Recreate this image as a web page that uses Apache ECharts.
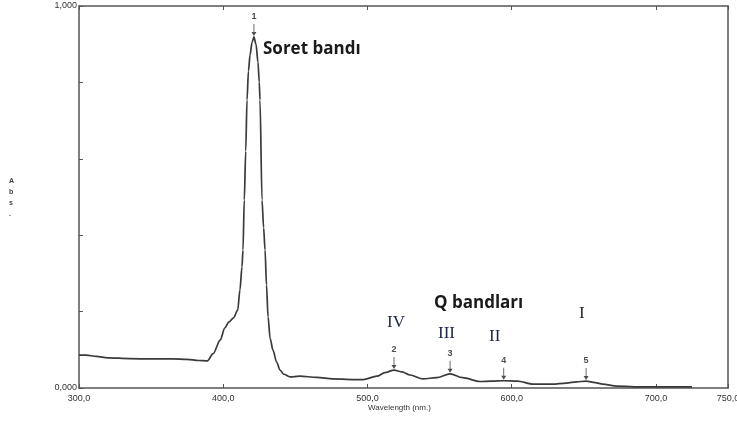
<!DOCTYPE html>
<html>
<head>
<meta charset="utf-8">
<style>
  html, body { margin: 0; padding: 0; background: #fff; }
  #chart { width: 737px; height: 424px; }
</style>
<script src="https://cdn.jsdelivr.net/npm/echarts@6/dist/echarts.min.js"></script>
</head>
<body>
<div id="chart"></div>
<script>
// spectrum (nm, Abs)
const wavelengths = [300, 305, 312, 320, 335, 350, 365, 375, 383, 389, 393, 398, 401, 404, 407, 410,
  411.6, 413, 413.7, 414.6, 415.6, 416.5, 417.5, 418.6, 420, 421.3, 422.7, 424.1, 425, 425.5,
  426.9, 428, 429, 430, 431.1, 432.5, 434.5, 437, 439.4, 442, 446.3, 453, 465, 476, 490, 497, 506.6, 512,
  518.4, 524, 529.5, 538.5, 548, 557.3, 566, 578, 586, 594.5, 604, 615, 628, 638, 645, 651.6, 658,
  663, 673, 685, 700, 715, 725];
const absorbance = [0.086, 0.086, 0.083, 0.079, 0.077, 0.076, 0.076, 0.075, 0.072, 0.071, 0.090, 0.126,
  0.157, 0.173, 0.183, 0.203, 0.257, 0.317, 0.361, 0.492, 0.62, 0.754, 0.83, 0.872, 0.905, 0.919, 0.9,
  0.853, 0.8, 0.754, 0.492, 0.42, 0.361, 0.27, 0.186, 0.13, 0.099, 0.068, 0.047, 0.036, 0.029, 0.031, 0.028,
  0.024, 0.022, 0.022, 0.031, 0.040, 0.047, 0.042, 0.034, 0.024, 0.027, 0.037, 0.027, 0.017, 0.018,
  0.019, 0.018, 0.010, 0.010, 0.013, 0.016, 0.018, 0.014, 0.010, 0.005, 0.003, 0.003, 0.003, 0.003];

// picked peaks
const peakLabels = ['1', '2', '3', '4', '5'];
const peakWl = [421.3, 518.4, 557.3, 594.5, 651.6];
const peakAbs = [0.919, 0.047, 0.037, 0.019, 0.018];

const xTicks = [300, 400, 500, 600, 700, 750];

const axisColor = '#555';
const labelFont = { color: '#333', fontSize: 9, fontFamily: 'Liberation Sans, Arial, sans-serif' };

const fmt = (v, d) => v.toFixed(d).replace('.', ',');

// down arrow: short shaft with a head at the bottom
const arrowPath = 'path://M2.5,0 L3.5,0 L3.5,8 L6,8 L3,12 L0,8 L2.5,8 Z';

const chart = echarts.init(document.getElementById('chart'), null, { renderer: 'canvas' });

chart.setOption({
  animation: false,
  grid: { left: 79, right: 9, top: 6, bottom: 36, outerBoundsMode: 'none', containLabel: false },
  xAxis: [
    {
      type: 'value', min: 300, max: 750, interval: 100,
      axisLine: { show: true, lineStyle: { color: axisColor, width: 1.5 } },
      axisTick: { show: true, inside: true, length: 4, lineStyle: { color: axisColor } },
      splitLine: { show: false },
      axisLabel: Object.assign({ margin: 6, showMaxLabel: true, showMinLabel: true, hideOverlap: false,
        formatter: v => xTicks.includes(v) ? fmt(v, 1) : '' }, labelFont)
    },
    {
      type: 'value', position: 'top', min: 300, max: 750, interval: 100,
      axisLine: { show: true, onZero: false, lineStyle: { color: axisColor, width: 1.5 } },
      axisTick: { show: true, inside: true, length: 4, lineStyle: { color: axisColor } },
      splitLine: { show: false },
      axisLabel: { show: false }
    }
  ],
  yAxis: [
    {
      type: 'value', min: 0, max: 1, interval: 0.2,
      axisLine: { show: true, lineStyle: { color: axisColor, width: 1.5 } },
      axisTick: { show: true, inside: true, length: 4, lineStyle: { color: axisColor } },
      splitLine: { show: false },
      axisLabel: Object.assign({ margin: 2,
        formatter: v => (v === 0 || v === 1) ? fmt(v, 3) : '' }, labelFont)
    },
    {
      type: 'value', position: 'right', min: 0, max: 1,
      axisLine: { show: true, onZero: false, lineStyle: { color: axisColor, width: 1.5 } },
      axisTick: { show: false }, splitLine: { show: false }, axisLabel: { show: false }
    }
  ],
  series: [
    {
      type: 'line',
      data: wavelengths.map((w, i) => [w, absorbance[i]]),
      showSymbol: false,
      smooth: 0.3,
      smoothMonotone: 'x',
      lineStyle: { color: '#3a3a3a', width: 1.7 },
      z: 3
    },
    {
      type: 'scatter',
      data: peakWl.map((w, i) => [w, peakAbs[i]]),
      symbol: arrowPath,
      symbolSize: [5, 12],
      symbolOffset: [0, -7],
      itemStyle: { color: '#222' },
      label: {
        show: true, position: 'top', distance: 3,
        formatter: p => peakLabels[p.dataIndex],
        color: '#222', fontSize: 9, fontWeight: 'bold',
        fontFamily: 'Liberation Sans, Arial, sans-serif'
      },
      z: 4
    }
  ],
  graphic: [
    { type: 'text', left: 9, top: 176,
      style: { text: 'A\nb\ns\n.', fill: '#444', font: 'bold 7px Liberation Sans, sans-serif', lineHeight: 11 } },
    { type: 'text', left: 368, top: 404,
      style: { text: 'Wavelength (nm.)', fill: '#333', font: '8px Liberation Sans, sans-serif' } },
    { type: 'text', left: 263, top: 41,
      style: { text: 'Soret bandı', fill: '#1a1a1a', font: 'bold 17px "Open Sans", sans-serif' } },
    { type: 'text', left: 434, top: 295,
      style: { text: 'Q bandları', fill: '#1a1a1a', font: 'bold 17px "Open Sans", sans-serif' } },
    { type: 'text', left: 387, top: 314,
      style: { text: 'IV', fill: '#1c2541', font: '17px "Liberation Serif", serif' } },
    { type: 'text', left: 438, top: 325,
      style: { text: 'III', fill: '#1c2541', font: '17px "Liberation Serif", serif' } },
    { type: 'text', left: 489, top: 328,
      style: { text: 'II', fill: '#1c2541', font: '17px "Liberation Serif", serif' } },
    { type: 'text', left: 579, top: 305,
      style: { text: 'I', fill: '#1c2541', font: '17px "Liberation Serif", serif' } }
  ]
});
</script>
</body>
</html>
